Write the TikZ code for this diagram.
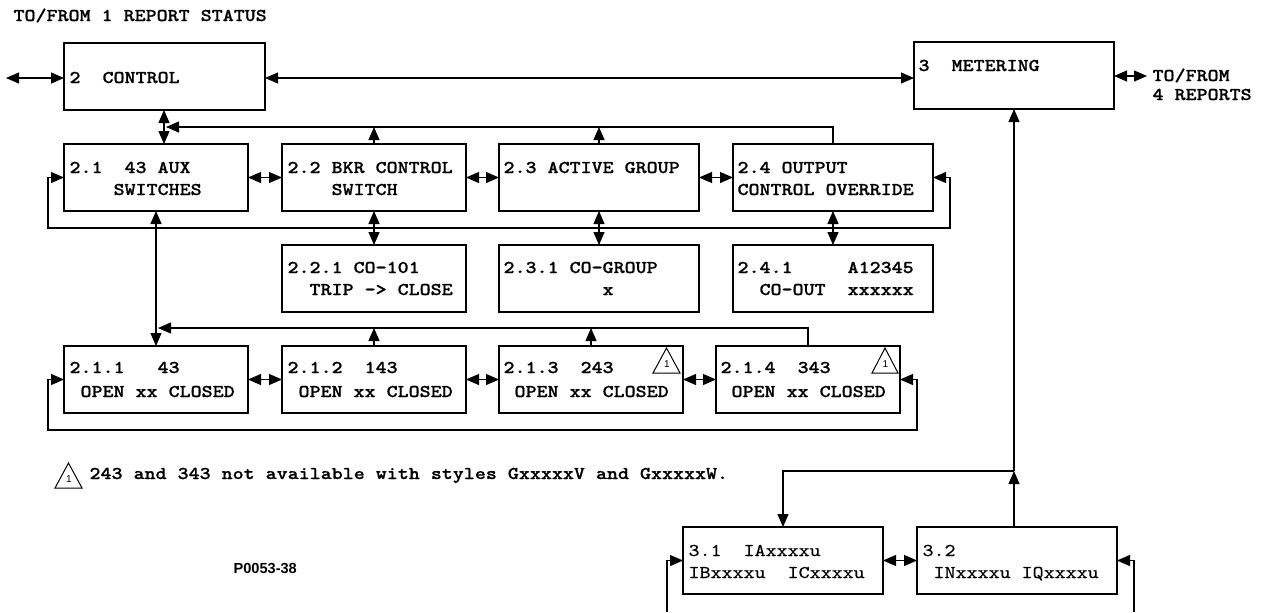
\documentclass[tikz,border=0pt]{standalone}
\usepackage{fontspec}
\usetikzlibrary{arrows.meta,calc}
\newfontfamily\courb{lmmonolt10-bold.otf}[FakeStretch=1.165,FakeBold=0.8]
\newfontfamily\courr{lmmono10-regular.otf}[FakeStretch=1.165,FakeBold=0.5]
\newfontfamily\hvf{Liberation Sans}
\newlength\cw
\setlength\cw{5.5pt}
\AtBeginDocument{\settowidth{\cw}{\courb\fontsize{9pt}{11pt}\selectfont 0}}
\newcommand\sk[1]{\hspace*{#1\cw}}
\newcommand\tfb{\courb\fontsize{9pt}{11pt}\selectfont\spaceskip\cw\relax}
\newcommand\tfr{\courr\fontsize{9pt}{11pt}\selectfont\spaceskip\cw\relax}
\newcommand\tfone{\hvf\fontsize{5pt}{5pt}\selectfont}
\newcommand\tfid{\hvf\bfseries\fontsize{7.3pt}{8pt}\selectfont}
\tikzset{
  >={Triangle[length=6.5pt,width=5.5pt]},
  every path/.style={line width=0.55pt},
  bx/.style={draw, inner sep=0pt, outer sep=0pt, minimum height=33.5pt, line width=0.65pt},
  wa/.style={minimum width=92pt},
  wb/.style={minimum width=100pt},
  tx/.style={anchor=base west, inner sep=0pt, font=\tfb},
  txr/.style={anchor=base west, inner sep=0pt, font=\tfr},
  one/.style={inner sep=0pt, font=\tfone},
}
\begin{document}
\begin{tikzpicture}[x=0.5pt,y=-0.5pt]
\useasboundingbox (0,0) rectangle (1267,612);
% boxes
\node[bx, minimum width=100.5pt] (c2) at (164.5,76.5) {};
\node[bx, wb] (m3) at (1014,75.5) {};
\node[bx, wa] (b21) at (156,177.5) {};
\node[bx, wa] (b22) at (374,177.5) {};
\node[bx, wb] (b23) at (599,177.5) {};
\node[bx, wb] (b24) at (833,177.5) {};
\node[bx, wa] (b221) at (374,278.5) {};
\node[bx, wb] (b231) at (599,278.5) {};
\node[bx, wb] (b241) at (833,278.5) {};
\node[bx, wa] (b211) at (156,379.5) {};
\node[bx, wa] (b212) at (374,379.5) {};
\node[bx, wa] (b213) at (591,379.5) {};
\node[bx, wa] (b214) at (808,379.5) {};
\node[bx, wb] (b31) at (783,560.5) {};
\node[bx, wb] (b32) at (1017,560.5) {};
% texts
\node[tx] (title) at (13,21) {TO/FROM 1 REPORT STATUS};
\node[tx] (tc2) at ([shift={(5,40)}]c2.north west) {2\sk{2}CONTROL};
\node[tx] (tm3) at ([shift={(4,29)}]m3.north west) {3\sk{2}METERING};
\node[tx] (tr1) at (1152,81) {TO/FROM};
\node[tx] (tr2) at (1152,100) {4 REPORTS};
\node[tx] (t21a) at ([shift={(5,29)}]b21.north west) {2.1\sk{2}43 AUX};
\node[tx] (t21b) at ([shift={(5,51)}]b21.north west) {\sk{4}SWITCHES};
\node[tx] (t22a) at ([shift={(5,29)}]b22.north west) {2.2 BKR CONTROL};
\node[tx] (t22b) at ([shift={(5,51)}]b22.north west) {\sk{4}SWITCH};
\node[tx] (t23a) at ([shift={(4,29)}]b23.north west) {2.3 ACTIVE GROUP};
\node[tx] (t24a) at ([shift={(4,29)}]b24.north west) {2.4 OUTPUT};
\node[tx] (t24b) at ([shift={(4,51)}]b24.north west) {CONTROL OVERRIDE};
\node[tx] (t221a) at ([shift={(5,28)}]b221.north west) {2.2.1 CO-101};
\node[tx] (t221b) at ([shift={(5,50)}]b221.north west) {\sk{2}TRIP -> CLOSE};
\node[tx] (t231a) at ([shift={(4,28)}]b231.north west) {2.3.1 CO-GROUP};
\node[tx] (t231b) at ([shift={(4,50)}]b231.north west) {\sk{9}x};
\node[tx] (t241a) at ([shift={(4,28)}]b241.north west) {2.4.1\sk{5}A12345};
\node[tx] (t241b) at ([shift={(4,50)}]b241.north west) {\sk{2}CO-OUT\sk{2}xxxxxx};
\node[tx] (t211a) at ([shift={(5,27)}]b211.north west) {2.1.1\sk{3}43};
\node[tx] (t211b) at ([shift={(5,51)}]b211.north west) {\sk{1}OPEN xx CLOSED};
\node[tx] (t212a) at ([shift={(5,27)}]b212.north west) {2.1.2\sk{2}143};
\node[tx] (t212b) at ([shift={(5,51)}]b212.north west) {\sk{1}OPEN xx CLOSED};
\node[tx] (t213a) at ([shift={(4,27)}]b213.north west) {2.1.3\sk{2}243};
\node[tx] (t213b) at ([shift={(4,51)}]b213.north west) {\sk{1}OPEN xx CLOSED};
\node[tx] (t214a) at ([shift={(4,27)}]b214.north west) {2.1.4\sk{2}343};
\node[tx] (t214b) at ([shift={(4,51)}]b214.north west) {\sk{1}OPEN xx CLOSED};
\node[txr] (t31a) at ([shift={(5,29)}]b31.north west) {3.1\sk{2}IAxxxxu};
\node[txr] (t31b) at ([shift={(5,51)}]b31.north west) {IBxxxxu\sk{2}ICxxxxu};
\node[txr] (t32a) at ([shift={(5,29)}]b32.north west) {3.2};
\node[txr] (t32b) at ([shift={(5,51)}]b32.north west) {\sk{1}INxxxxu IQxxxxu};
\node[tx] (fn) at (89,479) {243 and 343 not available with styles GxxxxxV and GxxxxxW.};
\node[anchor=base west, inner sep=0pt, font=\tfid] (pid) at (233,573) {P0053-38};
% warning triangles
\draw[line width=0.5pt] (653,373) -- (666.5,348) -- (680,373) -- cycle;
\node[one] (w1) at (667,364) {1};
\draw[line width=0.5pt] (872,373) -- (885,348) -- (898,373) -- cycle;
\node[one] (w2) at (885.5,364) {1};
\draw[line width=0.5pt] (55,488) -- (68.5,463) -- (82,488) -- cycle;
\node[one] (w3) at (69,479) {1};
% connectors top
\coordinate (lftend) at (6,78);
\draw[<->] (lftend) -- (lftend -| c2.west);
\draw[<->] (c2.east |- lftend) -- (m3.west |- lftend);
\coordinate (rgtend) at (1147,76);
\draw[<->] (m3.east |- rgtend) -- (rgtend);
\coordinate (v1) at (164,0);
\draw[<->] (c2.south -| v1) -- (b21.north -| v1);
\coordinate (h1) at (166,127);
\draw[->] (b24.north) |- (h1);
\draw[->] (b22.north) -- (b22.north |- h1);
\draw[->] (b23.north) -- (b23.north |- h1);
% row 2
\draw[<->] (b21.east) -- (b22.west);
\draw[<->] (b22.east) -- (b23.west);
\draw[<->] (b23.east) -- (b24.west);
\coordinate (wl1) at (48,228);
\coordinate (wr1) at (950,228);
\draw[<->] (b21.west) -| (wl1) -- (wr1) |- (b24.east);
\draw[<->] (b21.south) -- (b211.north);
\draw[<->] (b22.south) -- (b221.north);
\draw[<->] (b23.south) -- (b231.north);
\draw[<->] (b24.south) -- (b241.north);
% row 4
\coordinate (h2) at (158,328);
\draw[->] (b214.north) |- (h2);
\draw[->] (b212.north) -- (b212.north |- h2);
\draw[->] (b213.north) -- (b213.north |- h2);
\draw[<->] (b211.east) -- (b212.west);
\draw[<->] (b212.east) -- (b213.west);
\draw[<->] (b213.east) -- (b214.west);
\coordinate (wl2) at (48,430);
\coordinate (wr2) at (917,430);
\draw[<->] (b211.west) -| (wl2) -- (wr2) |- (b214.east);
% metering
\coordinate (jn) at (1014,471);
\coordinate (jl) at (783,471);
\draw[->] (m3.south |- b32.north) -- (jn);
\draw[->] (jn) -- (m3.south);
\draw[->] (jn) -- (jl) -- (b31.north);
\draw[<->] (b31.east) -- (b32.west);
\coordinate (bl) at (667,612);
\coordinate (br) at (1134,612);
\draw[->] (bl) |- (b31.west);
\draw[->] (br) |- (b32.east);
\end{tikzpicture}
\end{document}
